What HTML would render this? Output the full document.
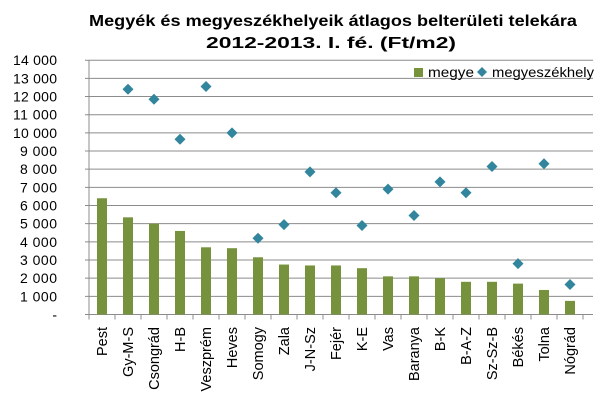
<!DOCTYPE html>
<html><head><meta charset="utf-8"><style>
html,body{margin:0;padding:0;background:#fff;}
svg{display:block;font-family:"Liberation Sans",sans-serif;}
</style></head><body>
<svg width="600" height="400" xmlns="http://www.w3.org/2000/svg">
<text x="333" y="26" text-anchor="middle" font-size="16" font-weight="bold" fill="#000" textLength="488" lengthAdjust="spacingAndGlyphs">Megyék és megyeszékhelyeik átlagos belterületi telekára</text>
<text x="331" y="48" text-anchor="middle" font-size="16" font-weight="bold" fill="#000" textLength="250" lengthAdjust="spacingAndGlyphs">2012-2013. I. fé. (Ft/m2)</text>
<g id="grid" stroke="#8c8c8c" stroke-width="1"></g>
<g id="bars"></g>
<g id="ylab" font-size="14" fill="#000" text-anchor="end"></g>
<g id="xlab" font-size="14.5" fill="#000"></g>
<rect x="414" y="68" width="9" height="9" fill="#76923c"/>
<text x="428" y="77" font-size="14" textLength="46" lengthAdjust="spacingAndGlyphs">megye</text>
<path d="M482,67 l5,5 l-5,5 l-5,-5z" fill="#31859c"/>
<text x="492" y="77" font-size="14" textLength="102" lengthAdjust="spacingAndGlyphs">megyeszékhely</text>
<script>
var ns="http://www.w3.org/2000/svg";
function el(p,t,a,txt){var e=document.createElementNS(ns,t);for(var k in a)e.setAttribute(k,a[k]);if(txt)e.textContent=txt;document.getElementById(p).appendChild(e);}
var y0=314.5,sc=254.3/14000,x0=89,st=26;
function Y(v){return y0-v*sc;}
for(var i=0;i<=14;i++){var y=Y(i*1000);
 if(i>0)el("grid","line",{x1:x0-4,x2:593,y1:y,y2:y});
 var a={x:57,y:y+5};
 if(i>0)a.textLength=(i>=10?44:37);
 el("ylab","text",a,i==0?"-":i+" 000");}
el("grid","line",{x1:x0-4,x2:593,y1:y0,y2:y0});
el("grid","line",{x1:x0,x2:x0,y1:60,y2:y0});
for(var i=0;i<=19;i++)el("grid","line",{x1:x0+i*st,x2:x0+i*st,y1:y0,y2:y0+5});
var c=["Pest","Gy-M-S","Csongrád","H-B","Veszprém","Heves","Somogy","Zala","J-N-Sz","Fejér","K-E","Vas","Baranya","B-K","B-A-Z","Sz-Sz-B","Békés","Tolna","Nógrád"];
var b=[6400,5350,5000,4600,3700,3650,3150,2750,2700,2700,2550,2100,2100,2000,1800,1800,1700,1350,750];
var d=[null,12400,11850,9650,12550,10000,4200,4950,7850,6700,4900,6900,5450,7300,6700,8150,2800,8300,1650];
for(var i=0;i<19;i++){var cx=x0+st*i+st/2;
 el("bars","rect",{x:cx-5,y:Y(b[i]),width:10,height:y0-Y(b[i]),fill:"#76923c"});
 if(d[i]!=null){var y=Y(d[i]);el("bars","path",{d:"M"+cx+","+(y-5.5)+" l5.5,5.5 l-5.5,5.5 l-5.5,-5.5z",fill:"#31859c"});}
 el("xlab","text",{x:0,y:0,"text-anchor":"end",transform:"translate("+(cx+5)+",327) rotate(-90)"},c[i]);}
</script>
</svg>
</body></html>
